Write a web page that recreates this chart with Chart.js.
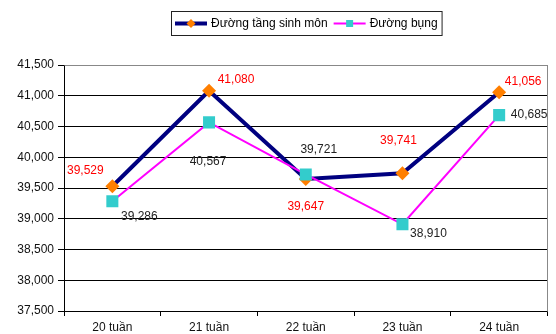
<!DOCTYPE html>
<html>
<head>
<meta charset="utf-8">
<script src="https://cdn.jsdelivr.net/npm/chart.js@4/dist/chart.umd.min.js"></script>
<style>
  html, body { margin: 0; padding: 0; background: #fff; }
  #wrap { width: 556px; height: 334px; position: relative; }
</style>
</head>
<body>
<div id="wrap"><canvas id="c" width="556" height="334"></canvas></div>
<script>
// Weekly measurements (gestational week) for two curves
const categories = ['20 tuần', '21 tuần', '22 tuần', '23 tuần', '24 tuần'];
const perinealValues = [39529, 41080, 39647, 39741, 41056];   // Đường tầng sinh môn
const abdominalValues = [39286, 40567, 39721, 38910, 40685];  // Đường bụng
const yMin = 37500;
const yMax = 41500;
const yStep = 500;

const FONT = '"Liberation Sans", Arial, sans-serif';
const fmt = v => Number(v).toLocaleString('en-US');

// Placement of each value label relative to its point (dx, dy)
const labelOffsets = [
  [[-27, -16], [27, -11], [0, 28], [-4, -32], [24, -11]],
  [[27, 16], [-1, 39], [13, -25], [26, 9], [30, 0]]
];
const labelColors = ['#ff0000', '#222222'];

function drawMarker(ctx, style, x, y, r, fill) {
  ctx.save();
  ctx.fillStyle = fill;
  ctx.beginPath();
  if (style === 'rectRot') {
    ctx.moveTo(x, y - r); ctx.lineTo(x + r, y); ctx.lineTo(x, y + r); ctx.lineTo(x - r, y);
  } else {
    ctx.rect(x - r, y - r, 2 * r, 2 * r);
  }
  ctx.closePath();
  ctx.fill();
  ctx.restore();
}

const decorations = {
  id: 'decorations',
  afterDraw(chart) {
    const ctx = chart.ctx;
    const area = chart.chartArea;
    // grey frame on the top and right of the plot area
    ctx.save();
    ctx.strokeStyle = '#888888';
    ctx.lineWidth = 1;
    ctx.beginPath();
    ctx.moveTo(Math.round(area.left) + 0.5, Math.round(area.top) + 0.5);
    ctx.lineTo(Math.round(area.right) - 0.5, Math.round(area.top) + 0.5);
    ctx.lineTo(Math.round(area.right) - 0.5, Math.round(area.bottom) + 0.5);
    ctx.stroke();
    ctx.restore();

    // value labels
    ctx.save();
    ctx.font = '12px ' + FONT;
    ctx.textAlign = 'center';
    ctx.textBaseline = 'middle';
    chart.data.datasets.forEach((ds, di) => {
      const meta = chart.getDatasetMeta(di);
      meta.data.forEach((pt, i) => {
        const off = labelOffsets[di][i];
        ctx.fillStyle = labelColors[di];
        ctx.fillText(fmt(ds.data[i]), pt.x + off[0], pt.y + off[1]);
      });
    });
    ctx.restore();

    // legend box with line + marker samples
    ctx.save();
    ctx.font = '12px ' + FONT;
    const lineLen = 32, gapText = 4, gapItem = 6, pad = 4;
    const widths = chart.data.datasets.map(ds => ctx.measureText(ds.label).width);
    let total = pad * 2;
    widths.forEach((w, i) => { total += lineLen + gapText + w + (i < widths.length - 1 ? gapItem : 0); });
    const boxH = 24;
    const boxX = Math.round((area.left + area.right) / 2 - total / 2 + 1);
    const boxY = 11;
    ctx.strokeStyle = '#222222';
    ctx.lineWidth = 1;
    ctx.strokeRect(boxX + 0.5, boxY + 0.5, total, boxH);
    let x = boxX + pad;
    const cy = boxY + boxH / 2 + 0.5;
    chart.data.datasets.forEach((ds, i) => {
      ctx.strokeStyle = ds.borderColor;
      ctx.lineWidth = ds.borderWidth;
      ctx.beginPath();
      ctx.moveTo(x, cy);
      ctx.lineTo(x + lineLen, cy);
      ctx.stroke();
      drawMarker(ctx, ds.pointStyle, x + lineLen / 2, cy, ds.pointStyle === 'rectRot' ? 4.5 : 3.5, ds.pointBackgroundColor);
      ctx.fillStyle = '#000000';
      ctx.textAlign = 'left';
      ctx.textBaseline = 'middle';
      ctx.fillText(ds.label, x + lineLen + gapText, cy);
      x += lineLen + gapText + widths[i] + gapItem;
    });
    ctx.restore();
  }
};

new Chart(document.getElementById('c'), {
  type: 'line',
  data: {
    labels: categories,
    datasets: [
      {
        label: 'Đường tầng sinh môn',
        data: perinealValues,
        borderColor: '#000080',
        borderWidth: 4,
        pointStyle: 'rectRot',
        pointRadius: 7,
        pointHoverRadius: 7,
        pointBackgroundColor: '#ff7f00',
        pointBorderColor: '#ff7f00',
        pointBorderWidth: 0,
        tension: 0,
        order: 1
      },
      {
        label: 'Đường bụng',
        data: abdominalValues,
        borderColor: '#ff00ff',
        borderWidth: 2,
        pointStyle: 'rect',
        pointRadius: 8.5,
        pointHoverRadius: 8.5,
        pointBackgroundColor: '#33cccc',
        pointBorderColor: '#33cccc',
        pointBorderWidth: 0,
        tension: 0,
        order: 0
      }
    ]
  },
  options: {
    responsive: false,
    animation: false,
    events: [],
    layout: { padding: { top: 65, right: 2, left: 0, bottom: 0 } },
    plugins: {
      legend: { display: false },
      tooltip: { enabled: false },
      title: { display: false }
    },
    scales: {
      x: {
        offset: true,
        grid: {
          offset: true,
          drawOnChartArea: false,
          color: '#000000',
          tickLength: 5,
          tickColor: '#000000'
        },
        border: { color: '#000000', width: 1 },
        ticks: {
          color: '#111111',
          font: { family: FONT, size: 12 },
          padding: 4,
          maxRotation: 0
        },
        afterFit(scale) { scale.height = 23; }
      },
      y: {
        min: yMin,
        max: yMax,
        grid: {
          color: '#000000',
          lineWidth: 1,
          tickLength: 6,
          tickColor: '#000000'
        },
        border: { color: '#000000', width: 1 },
        ticks: {
          stepSize: yStep,
          color: '#111111',
          font: { family: FONT, size: 12 },
          padding: 4,
          callback: v => fmt(v)
        },
        afterFit(scale) { scale.width = 64; }
      }
    }
  },
  plugins: [decorations]
});
</script>
</body>
</html>
